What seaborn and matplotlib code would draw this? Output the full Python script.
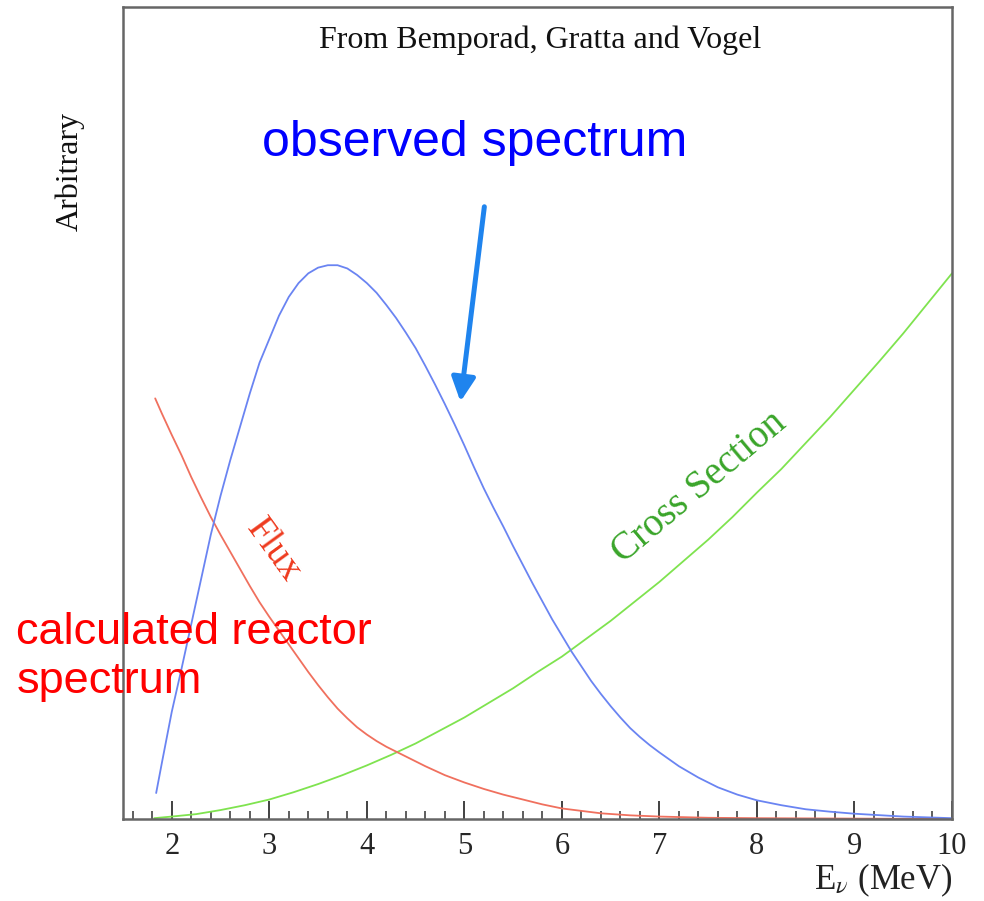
import matplotlib
matplotlib.use("Agg")
import matplotlib.pyplot as plt
import seaborn as sns
import pandas as pd
from matplotlib.ticker import MultipleLocator

# ---- data (arbitrary units) ----
obs_E = [1.84, 1.9, 2.0, 2.1, 2.2, 2.3, 2.4, 2.5, 2.6, 2.7, 2.8, 2.9, 3.0, 3.1, 3.2,
         3.3, 3.4, 3.5, 3.6, 3.7, 3.8, 3.9, 4.0, 4.1, 4.2, 4.3, 4.4, 4.5, 4.6, 4.7,
         4.8, 4.9, 5.0, 5.1, 5.2, 5.3, 5.4, 5.5, 5.6, 5.7, 5.8, 5.9, 6.0, 6.1, 6.2,
         6.3, 6.4, 6.5, 6.6, 6.7, 6.8, 6.9, 7.0, 7.2, 7.4, 7.6, 7.8, 8.0, 8.25, 8.5,
         8.75, 9.0, 9.5, 10.0]
obs_y = [3.2, 7.0, 13.2, 18.5, 24.0, 29.5, 35.0, 39.8, 44.2, 48.3, 52.4, 56.2, 59.1,
         62.0, 64.3, 66.0, 67.2, 67.9, 68.2, 68.2, 67.8, 67.0, 66.0, 64.8, 63.3, 61.7,
         59.9, 58.0, 55.8, 53.5, 51.1, 48.6, 46.0, 43.3, 40.7, 38.3, 36.0, 33.6, 31.3,
         29.0, 26.8, 24.6, 22.6, 20.6, 18.8, 17.0, 15.4, 13.9, 12.5, 11.2, 10.1, 9.1,
         8.2, 6.5, 5.1, 3.9, 3.0, 2.3, 1.7, 1.2, 0.9, 0.65, 0.3, 0.1]

flux_E = [1.83, 1.9, 2.0, 2.1, 2.2, 2.3, 2.4, 2.5, 2.6, 2.7, 2.8, 2.9, 3.0, 3.1, 3.2,
          3.3, 3.4, 3.5, 3.6, 3.7, 3.8, 3.9, 4.0, 4.1, 4.2, 4.3, 4.4, 4.5, 4.6, 4.8,
          5.0, 5.2, 5.4, 5.6, 5.8, 6.0, 6.2, 6.4, 6.7, 7.0, 7.5, 8.0, 9.0, 10.0]
flux_y = [51.8, 49.9, 47.3, 44.8, 42.1, 39.6, 37.2, 35.0, 32.9, 30.8, 28.7, 26.7, 24.9,
          23.2, 21.5, 19.8, 18.1, 16.5, 15.0, 13.6, 12.4, 11.3, 10.4, 9.6, 8.9, 8.3,
          7.7, 7.1, 6.5, 5.4, 4.5, 3.7, 3.0, 2.4, 1.8, 1.3, 1.0, 0.7, 0.45, 0.3, 0.15,
          0.1, 0.05, 0.0]

xs_E = [1.82, 2.0, 2.25, 2.5, 2.75, 3.0, 3.25, 3.5, 3.75, 4.0, 4.25, 4.5, 4.75, 5.0,
        5.25, 5.5, 5.75, 6.0, 6.25, 6.5, 6.75, 7.0, 7.25, 7.5, 7.75, 8.0, 8.25, 8.5,
        8.75, 9.0, 9.25, 9.5, 9.75, 10.0]
xs_y = [0.1, 0.3, 0.6, 1.1, 1.7, 2.4, 3.3, 4.3, 5.4, 6.6, 7.9, 9.3, 10.9, 12.5, 14.3,
        16.1, 18.1, 20.0, 22.2, 24.4, 26.8, 29.2, 31.8, 34.4, 37.2, 40.2, 43.1, 46.3,
        49.5, 52.9, 56.3, 59.8, 63.5, 67.2]

tick_vals = [2, 3, 4, 5, 6, 7, 8, 9, 10]
tick_labels = [str(v) for v in tick_vals]

# ---- style ----
sns.set_style("white")
plt.rcParams["font.family"] = ["Liberation Serif", "DejaVu Serif"]
plt.rcParams["mathtext.fontset"] = "stix"

fig = plt.figure(figsize=(9.84, 9.01), dpi=100)
ax = fig.add_axes([123 / 984, 82 / 901, 829 / 984, 812 / 901])

df_obs = pd.DataFrame({"E": obs_E, "y": obs_y})
df_flux = pd.DataFrame({"E": flux_E, "y": flux_y})
df_xs = pd.DataFrame({"E": xs_E, "y": xs_y})

sns.lineplot(data=df_xs, x="E", y="y", ax=ax, color="#7fe34f", lw=1.3, estimator=None)
sns.lineplot(data=df_flux, x="E", y="y", ax=ax, color="#f0705e", lw=1.3, estimator=None)
sns.lineplot(data=df_obs, x="E", y="y", ax=ax, color="#6a84f2", lw=1.3, estimator=None)

ax.set_xlim(1.5, 10.0)
ax.set_ylim(0, 100)
ax.set_xlabel("")
ax.set_ylabel("")
ax.set_yticks([])
ax.set_xticks(tick_vals)
ax.set_xticklabels(tick_labels, fontsize=22)
ax.xaxis.set_minor_locator(MultipleLocator(0.2))
ax.tick_params(axis="x", which="major", direction="in", length=13, width=1.3,
               color="#333333", pad=9, bottom=True, top=False)
ax.tick_params(axis="x", which="minor", direction="in", length=6, width=1.1,
               color="#333333", bottom=True, top=False)
for s in ax.spines.values():
    s.set_color("#666666")
    s.set_linewidth(1.8)
    s.set_visible(True)

# ---- texts ----
ax.text(5.78, 95.9, "From Bemporad, Gratta and Vogel", ha="center", va="center",
        fontsize=23, color="#111111")
ax.text(0.955, 79.7, "Arbitrary", rotation=90, ha="center", va="center",
        fontsize=23, color="#111111", clip_on=False)
ax.text(10.0, -7.5, r"E$_{\nu}$ (MeV)", ha="right", va="center", fontsize=25,
        color="#222222", clip_on=False)

ax.text(5.107, 83.3, "observed spectrum", ha="center", va="center", fontsize=36,
        color="#0000ff", family=["Liberation Sans", "DejaVu Sans"])
ax.text(0.407, 19.95, "calculated reactor\nspectrum", ha="left", va="center",
        fontsize=32.5, color="#ff0000", family=["Liberation Sans", "DejaVu Sans"],
        linespacing=1.24, clip_on=False)

ax.text(3.04, 33.1, "Flux", rotation=-54, ha="center", va="center", fontsize=27,
        color="#ee3a1e")
ax.text(7.405, 40.8, "Cross Section", rotation=40, ha="center", va="center",
        fontsize=28, color="#3aa52a")

ax.annotate("", xy=(4.96, 51.4), xytext=(5.205, 75.4),
            arrowprops=dict(arrowstyle="-|>", color="#1f84ee", lw=3.6,
                            mutation_scale=36, shrinkA=0, shrinkB=0))

fig.savefig("out.png", dpi=100)
